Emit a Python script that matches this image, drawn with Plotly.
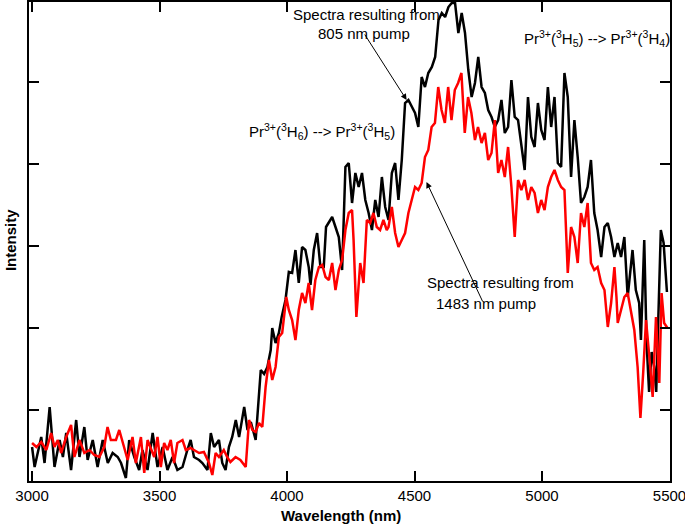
import plotly.graph_objects as go

# Wavelength (nm) and intensity (arbitrary units)
black_wl = [3000, 3010, 3036, 3049, 3069, 3088, 3108, 3121, 3134, 3153, 3173, 3186, 3205, 3218, 3238,
            3257, 3277, 3297, 3316, 3336, 3349, 3368, 3381, 3401, 3420, 3433, 3453, 3473, 3492, 3512,
            3531, 3551, 3570, 3590, 3609, 3622, 3635, 3655, 3668, 3688, 3701, 3714, 3733, 3746, 3759,
            3772, 3785, 3799, 3812, 3832, 3845, 3858, 3877, 3897, 3910, 3923, 3936, 3942, 3955, 3968,
            3979, 3994, 4007, 4020, 4033, 4046, 4059, 4072, 4085, 4092, 4105, 4118, 4131, 4144, 4153,
            4164, 4177, 4190, 4203, 4216, 4229, 4242, 4255, 4268, 4281, 4294, 4307, 4320, 4333, 4346,
            4359, 4372, 4385, 4398, 4411, 4424, 4437, 4450, 4463, 4476, 4489, 4502, 4515, 4528, 4541,
            4554, 4568, 4581, 4594, 4607, 4620, 4633, 4646, 4659, 4672, 4685, 4698, 4711, 4724, 4737,
            4750, 4763, 4776, 4789, 4802, 4815, 4828, 4841, 4854, 4867, 4880, 4893, 4906, 4919, 4932,
            4945, 4958, 4971, 4984, 4997, 5010, 5023, 5036, 5049, 5062, 5075, 5088, 5101, 5114, 5127,
            5140, 5153, 5166, 5179, 5192, 5205, 5218, 5232, 5245, 5258, 5271, 5284, 5297, 5310, 5323,
            5336, 5345, 5355, 5368, 5381, 5388, 5401, 5410, 5420, 5430, 5440, 5448, 5456, 5466, 5477,
            5490]
black_int = [45, 25, 55, 29, 85, 25, 52, 35, 59, 22, 72, 35, 65, 32, 52,
             25, 52, 29, 39, 35, 29, 14, 52, 35, 22, 42, 22, 59, 25, 45,
             22, 35, 22, 25, 42, 52, 35, 32, 29, 22, 59, 45, 52, 29, 22,
             45, 55, 72, 55, 85, 62, 70, 52, 122, 118, 125, 142, 164, 149, 159,
             175, 192, 220, 219, 242, 209, 245, 242, 225, 207, 242, 259, 225, 225, 265,
             269, 275, 265, 255, 222, 325, 329, 289, 319, 305, 319, 292, 279, 262, 292,
             275, 315, 285, 272, 319, 329, 292, 332, 389, 392, 385, 379, 365, 415, 405,
             419, 425, 435, 472, 479, 475, 485, 489, 489, 459, 479, 459, 422, 395, 409,
             435, 405, 399, 382, 375, 365, 372, 392, 359, 365, 412, 375, 372, 345, 322,
             395, 355, 345, 389, 362, 352, 405, 365, 395, 329, 325, 419, 395, 315, 372,
             335, 289, 295, 305, 332, 279, 262, 235, 265, 269, 255, 235, 249, 235, 255,
             195, 215, 242, 202, 189, 152, 252, 150, 100, 140, 125, 100, 179, 262, 249,
             200]

red_wl = [3000, 3017, 3036, 3056, 3075, 3088, 3101, 3114, 3134, 3153, 3166, 3186, 3205, 3225, 3244,
          3264, 3283, 3296, 3309, 3329, 3342, 3362, 3375, 3394, 3407, 3427, 3440, 3453, 3466, 3479,
          3492, 3505, 3518, 3531, 3544, 3557, 3570, 3590, 3603, 3622, 3635, 3655, 3674, 3694, 3707,
          3720, 3733, 3752, 3765, 3778, 3798, 3817, 3838, 3851, 3864, 3877, 3890, 3903, 3916, 3929,
          3942, 3955, 3968, 3981, 3997, 4007, 4020, 4033, 4046, 4059, 4072, 4085, 4098, 4111, 4125,
          4138, 4151, 4164, 4177, 4190, 4203, 4216, 4229, 4242, 4255, 4261, 4272, 4287, 4300, 4313,
          4326, 4339, 4352, 4365, 4378, 4391, 4398, 4411, 4424, 4437, 4450, 4463, 4476, 4489, 4502,
          4515, 4528, 4541, 4554, 4567, 4580, 4593, 4606, 4619, 4632, 4645, 4658, 4671, 4684, 4697,
          4710, 4723, 4737, 4749, 4763, 4776, 4789, 4802, 4815, 4828, 4841, 4854, 4867, 4880, 4893,
          4906, 4919, 4932, 4945, 4958, 4971, 4984, 4997, 5010, 5023, 5036, 5049, 5062, 5075, 5088,
          5101, 5114, 5127, 5140, 5153, 5166, 5179, 5192, 5205, 5218, 5232, 5245, 5258, 5271, 5284,
          5292, 5297, 5310, 5323, 5336, 5349, 5362, 5375, 5386, 5397, 5408, 5421, 5434, 5447, 5460,
          5469, 5479, 5492]
red_int = [49, 45, 50, 42, 59, 45, 52, 39, 55, 67, 35, 52, 39, 42, 37,
           35, 45, 65, 52, 52, 62, 42, 32, 55, 29, 55, 19, 52, 44, 35,
           55, 25, 49, 42, 52, 29, 49, 52, 42, 44, 42, 39, 40, 29, 17,
           39, 35, 42, 35, 30, 35, 32, 25, 72, 62, 60, 69, 65, 105, 132,
           112, 125, 155, 159, 195, 182, 172, 152, 182, 199, 189, 209, 182, 212, 225,
           227, 215, 212, 229, 202, 222, 232, 262, 279, 282, 252, 175, 229, 209, 272,
           269, 279, 265, 262, 272, 262, 265, 285, 259, 245, 252, 259, 279, 292, 305,
           302, 309, 335, 342, 365, 369, 405, 382, 369, 405, 372, 402, 409, 419, 359,
           395, 379, 352, 365, 349, 359, 332, 339, 372, 319, 332, 315, 345, 305, 255,
           312, 302, 312, 292, 305, 299, 279, 292, 282, 305, 315, 322, 312, 305, 302,
           219, 265, 255, 229, 279, 265, 289, 229, 222, 225, 209, 202, 165, 189, 225,
           195, 169, 182, 195, 199, 182, 162, 125, 74, 120, 172, 135, 95, 175, 109,
           199, 169, 164]

x_tickvals = [3000, 3500, 4000, 4500, 5000, 5500]
x_ticktext = ["3000", "3500", "4000", "4500", "5000", "5500"]
y_tickvals = [82, 164, 246, 328, 410]

FONT = "Liberation Sans, Arial, sans-serif"

fig = go.Figure()
fig.add_trace(go.Scatter(x=black_wl, y=black_int, mode="lines",
                         line=dict(color="black", width=2.5), showlegend=False))
fig.add_trace(go.Scatter(x=red_wl, y=red_int, mode="lines",
                         line=dict(color="#ff0000", width=2.5), showlegend=False))

ann = []
txt = dict(showarrow=False, font=dict(family=FONT, size=15, color="black"),
           xref="x", yref="y", xanchor="left", yanchor="middle")
ann.append(dict(text="Spectra resulting from", x=4017, y=478, **txt))
ann.append(dict(text="805 nm pump", x=4115, y=459, **txt))
ann.append(dict(text="Spectra resulting from", x=4543, y=210, **txt))
ann.append(dict(text="1483 nm pump", x=4577, y=189, **txt))
ann.append(dict(text="Pr<sup>3+</sup>(<sup>3</sup>H<sub>6</sub>) --&gt; Pr<sup>3+</sup>(<sup>3</sup>H<sub>5</sub>)",
                x=3844, y=361, **txt))
ann.append(dict(text="Pr<sup>3+</sup>(<sup>3</sup>H<sub>5</sub>) --&gt; Pr<sup>3+</sup>(<sup>3</sup>H<sub>4</sub>)",
                x=4922, y=454, **txt))
# axis titles
ann.append(dict(text="<b>Wavelength (nm)</b>", xref="paper", yref="paper", x=0.487, y=-0.073,
                xanchor="center", yanchor="middle", showarrow=False,
                font=dict(family=FONT, size=15, color="black")))
ann.append(dict(text="<b>Intensity</b>", xref="paper", yref="paper", x=-0.0296, y=0.503,
                xanchor="center", yanchor="middle", textangle=-90, showarrow=False,
                font=dict(family=FONT, size=15, color="black")))
# arrows
arr = dict(showarrow=True, text="", xref="x", yref="y", axref="x", ayref="y",
           arrowhead=2, arrowsize=1.2, arrowwidth=1, arrowcolor="black")
ann.append(dict(x=4469, y=392, ax=4301, ay=459, **arr))
ann.append(dict(x=4547, y=310, ax=4770, ay=189, **arr))

fig.update_layout(
    width=685, height=525,
    margin=dict(l=29, r=15, t=2, b=44),
    paper_bgcolor="white", plot_bgcolor="white",
    font=dict(family=FONT, size=15, color="black"),
    annotations=ann,
    xaxis=dict(range=[2988, 5502], tickvals=x_tickvals, ticktext=x_ticktext,
               ticks="inside", ticklen=10, tickwidth=1.5, tickcolor="black",
               showline=True, linecolor="black", linewidth=2, mirror="ticks",
               showgrid=False, zeroline=False, automargin=False,
               ticklabeloverflow="allow",
               tickfont=dict(family=FONT, size=15, color="black")),
    yaxis=dict(range=[11, 490], tickvals=y_tickvals, showticklabels=False,
               ticks="inside", ticklen=10, tickwidth=1.5, tickcolor="black",
               showline=True, linecolor="black", linewidth=2, mirror="ticks",
               showgrid=False, zeroline=False, automargin=False),
)

fig.write_html("out.html", config={"displayModeBar": False},
               post_script="document.body.style.margin='0';document.body.style.padding='0';")
